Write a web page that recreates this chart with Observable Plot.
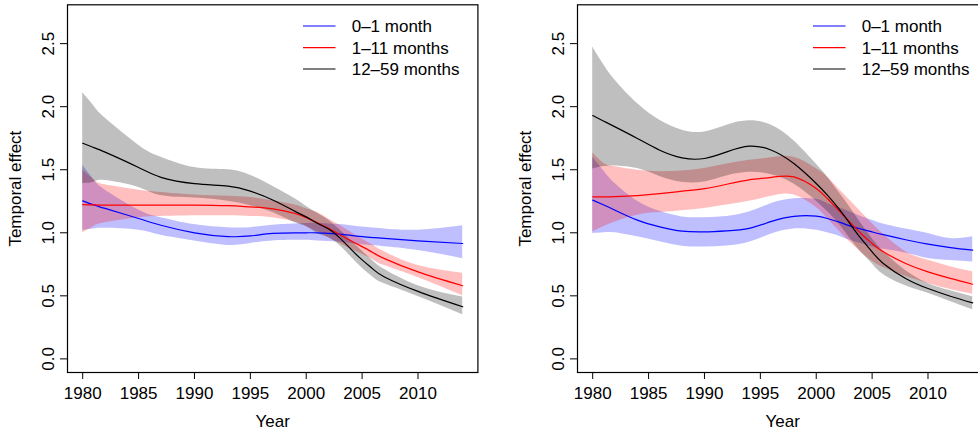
<!DOCTYPE html>
<html>
<head>
<meta charset="utf-8">
<script src="https://cdn.jsdelivr.net/npm/d3@7"></script>
<script src="https://cdn.jsdelivr.net/npm/@observablehq/plot@0.6"></script>
<style>
  html, body { margin: 0; padding: 0; background: #fff; }
  #wrap { position: relative; width: 978px; height: 432px; overflow: hidden; }
  #wrap svg { position: absolute; top: 0; }
</style>
</head>
<body>
<div id="wrap"></div>
<script>
// ---------- data ----------
const seriesNames = ["0\u20131 month", "1\u201311 months", "12\u201359 months"];
const seriesColors = ["#0000ff", "#ff0000", "#000000"];
const xTicks = [1980, 1985, 1990, 1995, 2000, 2005, 2010];
const yTicks = [0, 0.5, 1, 1.5, 2, 2.5];

// Left panel
const yearsL = [1980, 1981, 1982, 1985, 1987, 1990, 1993, 1995, 1997, 1999, 2000, 2001, 2002, 2003, 2004, 2005, 2006, 2007, 2010, 2014];
const blueL   = [1.253, 1.22, 1.193, 1.113, 1.06, 1.0, 0.97, 0.975, 0.995, 1.0, 1.0, 1.0, 0.995, 0.99, 0.98, 0.97, 0.962, 0.955, 0.936, 0.915];
const blueLoL = [1.02, 1.03, 1.035, 1.02, 0.98, 0.935, 0.90, 0.915, 0.935, 0.94, 0.94, 0.935, 0.93, 0.925, 0.915, 0.905, 0.897, 0.89, 0.86, 0.795];
const blueHiL = [1.536, 1.42, 1.34, 1.18, 1.12, 1.065, 1.04, 1.04, 1.06, 1.07, 1.073, 1.075, 1.07, 1.065, 1.055, 1.045, 1.037, 1.03, 1.02, 1.055];
const redL    = [1.224, 1.222, 1.22, 1.22, 1.22, 1.22, 1.215, 1.205, 1.19, 1.153, 1.12, 1.08, 1.035, 0.985, 0.937, 0.89, 0.842, 0.795, 0.69, 0.58];
const redLoL  = [1.0, 1.05, 1.08, 1.12, 1.13, 1.135, 1.135, 1.13, 1.12, 1.085, 1.05, 1.01, 0.962, 0.915, 0.872, 0.83, 0.785, 0.74, 0.645, 0.50];
const redHiL  = [1.496, 1.42, 1.38, 1.338, 1.32, 1.30, 1.29, 1.28, 1.255, 1.22, 1.19, 1.16, 1.11, 1.06, 1.005, 0.95, 0.90, 0.85, 0.74, 0.68];
const blackL   = [1.71, 1.675, 1.64, 1.518, 1.44, 1.39, 1.37, 1.33, 1.26, 1.17, 1.126, 1.075, 1.03, 0.96, 0.87, 0.785, 0.71, 0.65, 0.535, 0.413];
const blackLoL = [1.39, 1.40, 1.415, 1.36, 1.295, 1.275, 1.25, 1.215, 1.16, 1.08, 1.05, 0.995, 0.96, 0.90, 0.81, 0.72, 0.645, 0.595, 0.495, 0.35];
const blackHiL = [2.11, 2.005, 1.91, 1.695, 1.60, 1.518, 1.50, 1.457, 1.37, 1.27, 1.21, 1.155, 1.10, 1.025, 0.94, 0.855, 0.775, 0.71, 0.58, 0.49];

// Right panel
const yearsR = [1980, 1981, 1982, 1984, 1986, 1988, 1990, 1992, 1994, 1996, 1998, 2000, 2001, 2002, 2003, 2004, 2005, 2006, 2008, 2010, 2012, 2014];
const blueR   = [1.259, 1.22, 1.179, 1.10, 1.047, 1.013, 1.007, 1.015, 1.035, 1.09, 1.13, 1.132, 1.113, 1.086, 1.055, 1.03, 1.007, 0.985, 0.945, 0.91, 0.883, 0.862];
const blueLoR = [0.994, 1.0, 1.0, 0.968, 0.928, 0.894, 0.888, 0.895, 0.925, 0.99, 1.03, 1.02, 1.0, 0.975, 0.941, 0.915, 0.888, 0.87, 0.84, 0.796, 0.78, 0.769];
const blueHiR = [1.60, 1.49, 1.39, 1.25, 1.17, 1.126, 1.12, 1.13, 1.165, 1.232, 1.27, 1.265, 1.232, 1.2, 1.166, 1.13, 1.10, 1.07, 1.03, 0.994, 0.955, 0.968];
const redR    = [1.285, 1.285, 1.287, 1.295, 1.31, 1.33, 1.35, 1.385, 1.42, 1.44, 1.443, 1.351, 1.272, 1.179, 1.086, 0.994, 0.915, 0.849, 0.757, 0.69, 0.638, 0.592];
const redLoR  = [1.007, 1.05, 1.086, 1.14, 1.16, 1.175, 1.193, 1.22, 1.25, 1.29, 1.30, 1.20, 1.113, 1.02, 0.928, 0.845, 0.775, 0.725, 0.655, 0.598, 0.55, 0.513];
const redHiR  = [1.634, 1.549, 1.523, 1.496, 1.485, 1.49, 1.51, 1.545, 1.575, 1.595, 1.60, 1.51, 1.443, 1.35, 1.259, 1.165, 1.074, 0.99, 0.85, 0.783, 0.73, 0.69];
const blackR   = [1.93, 1.885, 1.84, 1.748, 1.655, 1.594, 1.589, 1.642, 1.687, 1.655, 1.549, 1.391, 1.298, 1.193, 1.074, 0.955, 0.849, 0.757, 0.638, 0.558, 0.497, 0.444];
const blackLoR = [1.506, 1.525, 1.53, 1.509, 1.447, 1.40, 1.403, 1.45, 1.48, 1.46, 1.387, 1.252, 1.168, 1.074, 0.957, 0.848, 0.755, 0.67, 0.58, 0.521, 0.455, 0.39];
const blackHiR = [2.474, 2.33, 2.21, 2.025, 1.893, 1.814, 1.80, 1.853, 1.888, 1.853, 1.73, 1.545, 1.443, 1.325, 1.205, 1.075, 0.955, 0.855, 0.70, 0.598, 0.54, 0.492];

// ---------- build tables ----------
function table(years, groups) {
  const rows = [];
  groups.forEach(([mean, lo, hi], g) => {
    years.forEach((yr, i) => rows.push({series: seriesNames[g], g, year: yr, mean: mean[i], lo: lo[i], hi: hi[i]}));
  });
  return rows;
}
const dataL = table(yearsL, [[blueL, blueLoL, blueHiL], [redL, redLoL, redHiL], [blackL, blackLoL, blackHiL]]);
const dataR = table(yearsR, [[blueR, blueLoR, blueHiR], [redR, redLoR, redHiR], [blackR, blackLoR, blackHiR]]);

const FONT = "'Liberation Sans', Arial, Helvetica, sans-serif";
const FS = 17;

function panel(data, left) {
  const marks = [];
  for (let g = 0; g < 3; g++) {
    const d = data.filter(r => r.g === g);
    marks.push(Plot.areaY(d, {x: "year", y1: "lo", y2: "hi", fill: seriesColors[g], fillOpacity: 0.25, curve: "natural"}));
  }
  for (let g = 0; g < 3; g++) {
    const d = data.filter(r => r.g === g);
    marks.push(Plot.line(d, {x: "year", y: "mean", stroke: seriesColors[g], strokeWidth: 1.2, curve: "natural"}));
  }
  marks.push(Plot.frame({stroke: "black", strokeWidth: 1.2}));
  // tick marks only
  marks.push(Plot.axisX({ticks: xTicks, tickSize: 7, tickFormat: () => "", label: null}));
  marks.push(Plot.axisY({ticks: yTicks, tickSize: 7, tickFormat: () => "", label: null}));
  // tick labels
  marks.push(Plot.text(xTicks, {x: d => d, frameAnchor: "bottom", dy: 14.2, textAnchor: "middle", lineAnchor: "top", text: d => String(d), fontSize: FS, fill: "black"}));
  marks.push(Plot.text(yTicks, {y: d => d, frameAnchor: "left", dx: -14, rotate: -90, textAnchor: "middle", lineAnchor: "bottom", text: d => d3.format(".1f")(d), fontSize: FS, fill: "black"}));
  // axis titles
  marks.push(Plot.text(["Year"], {frameAnchor: "bottom", textAnchor: "middle", lineAnchor: "bottom", dy: 54, text: d => d, fontSize: FS, fill: "black"}));
  marks.push(Plot.text(["Temporal effect"], {frameAnchor: "left", textAnchor: "middle", lineAnchor: "bottom", rotate: -90, dx: -46.5, text: d => d, fontSize: FS, fill: "black"}));

  const svg = Plot.plot({
    width: 489,
    height: 432,
    marginLeft: 67,
    marginRight: 11.6,
    marginTop: 4.3,
    marginBottom: 60,
    x: {domain: [1978.64, 2015.36]},
    y: {domain: [-0.108, 2.808]},
    style: {fontSize: FS + "px", fontFamily: FONT, color: "black", background: "white", overflow: "visible"},
    marks
  });
  svg.style.left = left + "px";

  // legend (top right, no box)
  const lg = d3.select(svg).append("g")
    .attr("font-family", FONT).attr("font-size", FS).attr("text-anchor", "start");
  const rowsY = [26, 47.7, 69];
  seriesNames.forEach((name, i) => {
    lg.append("line").attr("x1", 303).attr("x2", 335.5).attr("y1", rowsY[i]).attr("y2", rowsY[i])
      .attr("stroke", seriesColors[i]).attr("stroke-width", 1.2);
    lg.append("text").attr("x", 351.7).attr("y", rowsY[i]).attr("dy", "0.36em")
      .attr("text-anchor", "start").attr("fill", "black").text(name);
  });
  return svg;
}

const wrap = document.getElementById("wrap");
wrap.appendChild(panel(dataL, 0));
wrap.appendChild(panel(dataR, 509.5));
</script>
</body>
</html>
